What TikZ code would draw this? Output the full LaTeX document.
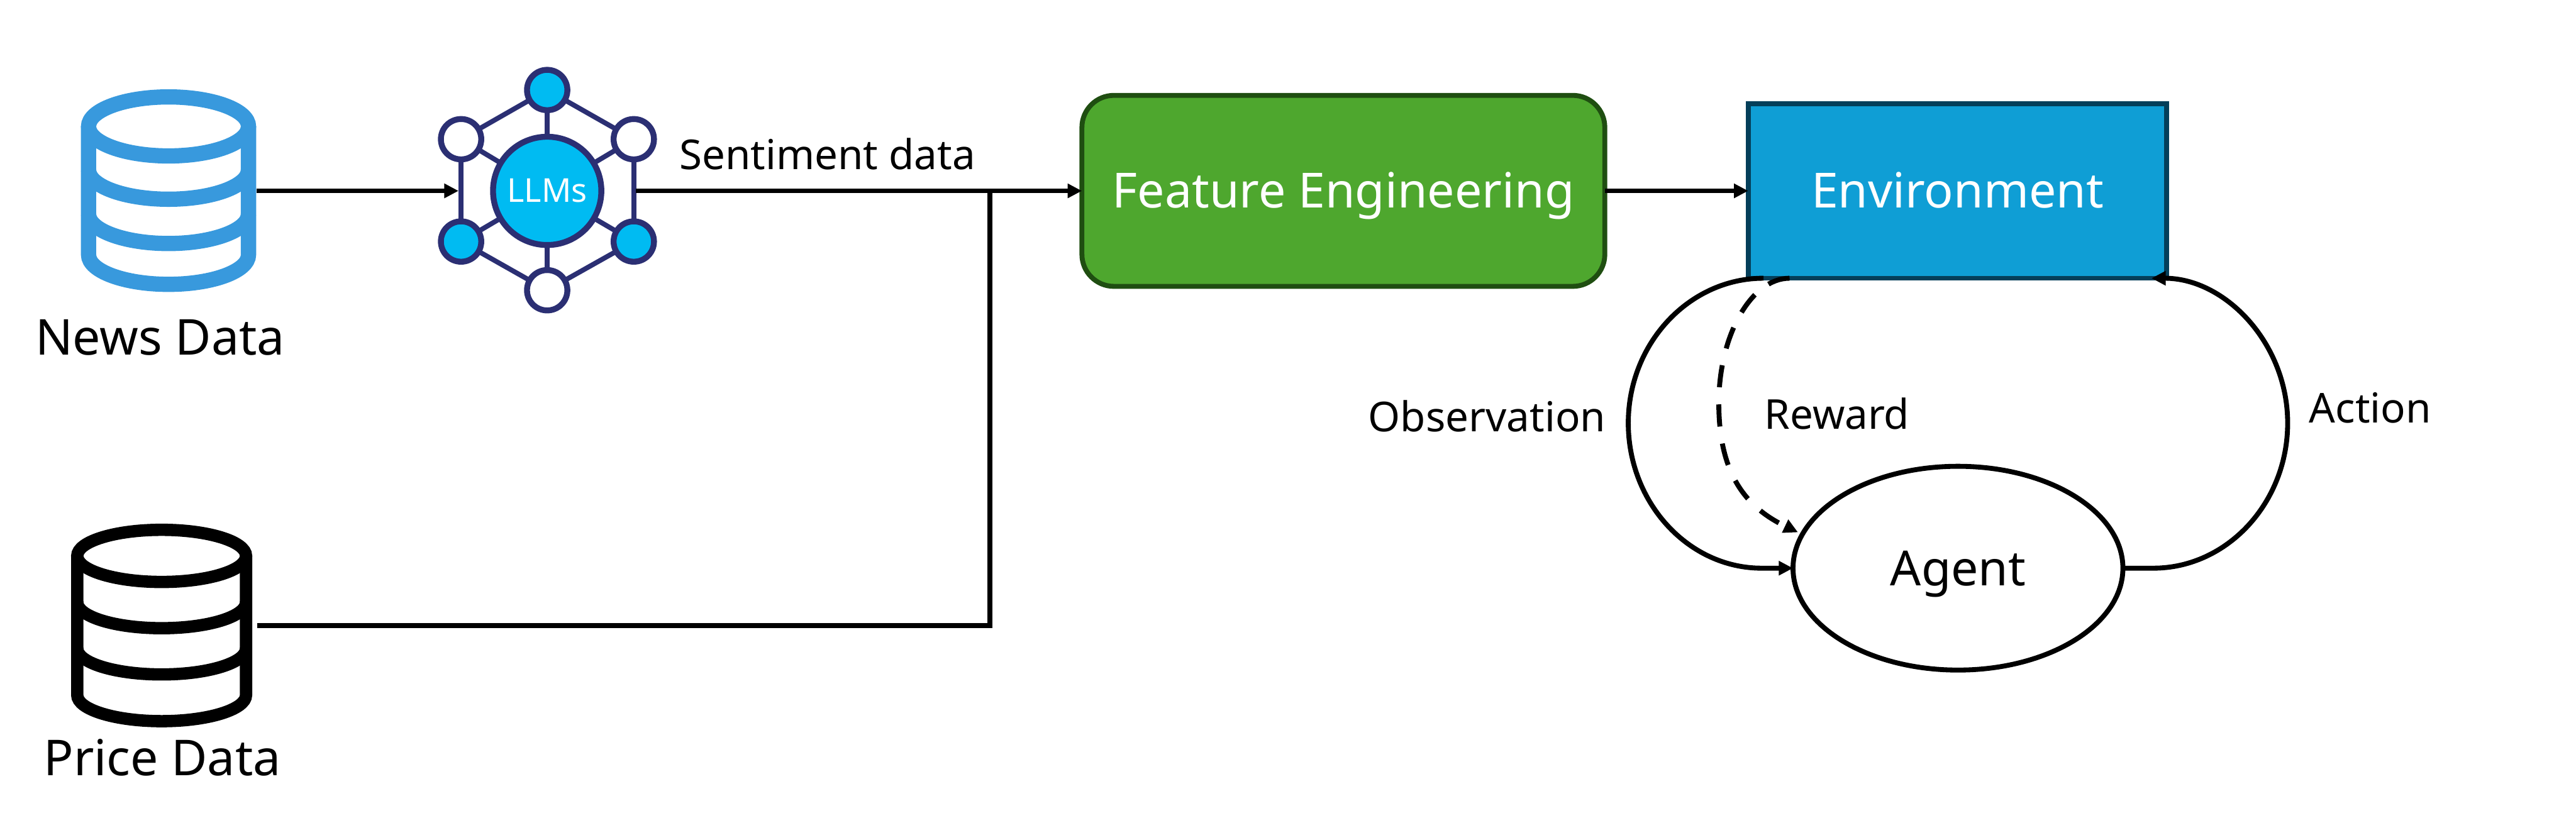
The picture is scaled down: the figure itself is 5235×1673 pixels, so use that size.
\documentclass[tikz,border=0pt]{standalone}
\usepackage{fontspec}
\setmainfont{Noto Sans}
\usetikzlibrary{arrows.meta,calc,shapes.geometric}
\definecolor{newsblue}{HTML}{3899DD}
\definecolor{llmnavy}{HTML}{2B2F73}
\definecolor{llmcyan}{HTML}{00BBF2}
\definecolor{featgreen}{HTML}{4EA72E}
\definecolor{featedge}{HTML}{1F4E11}
\definecolor{envblue}{HTML}{0F9ED5}
\definecolor{envedge}{HTML}{043F5A}
\tikzset{
  flowline/.style={line width=.1cm, -{Triangle[length=.29cm,width=.28cm]}},
  plainline/.style={line width=.1cm},
  newsline/.style={newsblue, line width=.31cm},
  priceline/.style={black, line width=.25cm},
  iconbox/.style={inner sep=0, outer sep=0},
  sat/.style={circle, draw=llmnavy, line width=.12cm, inner sep=0, outer sep=0, minimum size=.82cm},
  label/.style={inner sep=0, anchor=base west, font=\fontsize{23.8}{28}\selectfont},
  biglabel/.style={inner sep=0, anchor=base west, font=\fontsize{28.6}{34}\selectfont},
  boxtext/.style={text=white, font=\fontsize{28}{34}\selectfont, inner sep=0, outer sep=0, text height=.7cm, text depth=0cm},
}
\begin{document}
\begin{tikzpicture}[x=.01cm, y=-.01cm]
  \useasboundingbox (0,0) rectangle (5235,1673);

  \node[iconbox, minimum width=3.57cm, minimum height=4.11cm] (newsdb) at (342.5,388) {};
  \draw[newsline] (180,257) -- (180,518) arc [start angle=180, end angle=0, x radius=162.5, y radius=60] -- (505,257);
  \draw[newsline] (342.5,257) ellipse [x radius=162.5, y radius=60];
  \foreach \yy in {345,435}
    \draw[newsline] (180,\yy) arc [start angle=180, end angle=0, x radius=162.5, y radius=60];
  \node[biglabel] (newslabel) at (71,722) {News Data};

  \node[iconbox, minimum width=3.87cm, minimum height=4.15cm] (pricedb) at (328.5,1272) {};
  \draw[priceline] (157,1130) -- (157,1413) arc [start angle=180, end angle=0, x radius=171.5, y radius=53] -- (500,1130);
  \draw[priceline] (328.5,1130) ellipse [x radius=171.5, y radius=53];
  \foreach \yy in {1224,1318}
    \draw[priceline] (157,\yy) arc [start angle=180, end angle=0, x radius=171.5, y radius=53];
  \node[biglabel] (pricelabel) at (88,1576) {Price Data};

  \node[iconbox, minimum width=3.6cm, minimum height=3.6cm] (llmbox) at (1112,388) {};
  \node[circle, draw=llmnavy, fill=llmcyan, line width=.12cm, inner sep=0, outer sep=0, minimum size=2.2cm,
    text=white, font=\fontsize{19}{22}\selectfont] (llm) at (1112,388) {LLMs};
  \node[sat, fill=llmcyan] (top) at (1112,183) {};
  \node[sat, fill=white] (upleft) at (937,283) {};
  \node[sat, fill=white] (upright) at (1288,283) {};
  \node[sat, fill=llmcyan] (lowleft) at (937,491) {};
  \node[sat, fill=llmcyan] (lowright) at (1288,491) {};
  \node[sat, fill=white] (bottom) at (1112,590) {};
  \foreach \a/\b in {top/upleft, top/upright, upleft/lowleft, upright/lowright, lowleft/bottom, lowright/bottom,
    llm/top, llm/upleft, llm/upright, llm/lowleft, llm/lowright, llm/bottom}
    \draw[llmnavy, line width=.1cm] (\a) -- (\b);

  \node[rounded corners=.65cm, draw=featedge, fill=featgreen, line width=.1cm, outer sep=0,
    minimum width=10.62cm, minimum height=3.88cm, boxtext] (feat) at (2730,388) {Feature Engineering};
  \node[draw=envedge, fill=envblue, line width=.1cm, outer sep=0,
    minimum width=8.5cm, minimum height=3.55cm, boxtext] (env) at (3978,388) {Environment};
  \node[ellipse, draw=black, line width=.1cm, inner sep=0, outer sep=0,
    minimum width=6.7cm, minimum height=4.14cm] (agent) at (3979,1155) {};
  \node[biglabel, font=\fontsize{28}{34}\selectfont] (agentlabel) at (3841,1191) {Agent};

  \node[label] (sentlabel) at (1380,344) {Sentiment data};
  \node[label] (obslabel) at (2780,877) {Observation};
  \node[label] (rewlabel) at (3585,872) {Reward};
  \node[label] (actlabel) at (4692,860) {Action};

  \coordinate (merge) at (2012,388);
  \coordinate (obsfrom) at ($(env.south west)+(31,0)$);
  \coordinate (obsmid) at (3309,860);
  \coordinate (obsend) at (3580,1155);
  \coordinate (rewfrom) at ($(env.south west)+(84,0)$);
  \coordinate (rewmid) at (3493,820);
  \coordinate (rewend) at ($(agent.west)+(10,-73)$);
  \coordinate (actfrom) at (4376,1155);
  \coordinate (actmid) at (4649,860);
  \coordinate (actend) at ($(env.south east)+(-31,0)$);

  \draw[flowline] (newsdb.east) -- (llmbox.west);
  \draw[flowline] (llmbox.east) -- (feat.west);
  \draw[plainline] (pricedb.east) -| (merge);
  \draw[flowline] (feat.east) -- (env.west);
  \draw[flowline] (obsfrom) .. controls +(-151,0) and +(0,-162) .. (obsmid)
    .. controls +(0,162) and +(-149,0) .. (obsend) -- (agent.west);
  \draw[flowline, dash pattern=on .45cm off .35cm] (rewfrom) .. controls +(-77,0) and +(0,-140) .. (rewmid)
    .. controls +(0,140) and (3545,1030) .. (rewend);
  \draw[flowline] (agent.east) -- (actfrom) .. controls +(150,0) and +(0,162) .. (actmid)
    .. controls +(0,-162) and +(150,0) .. (actend);
\end{tikzpicture}
\end{document}
